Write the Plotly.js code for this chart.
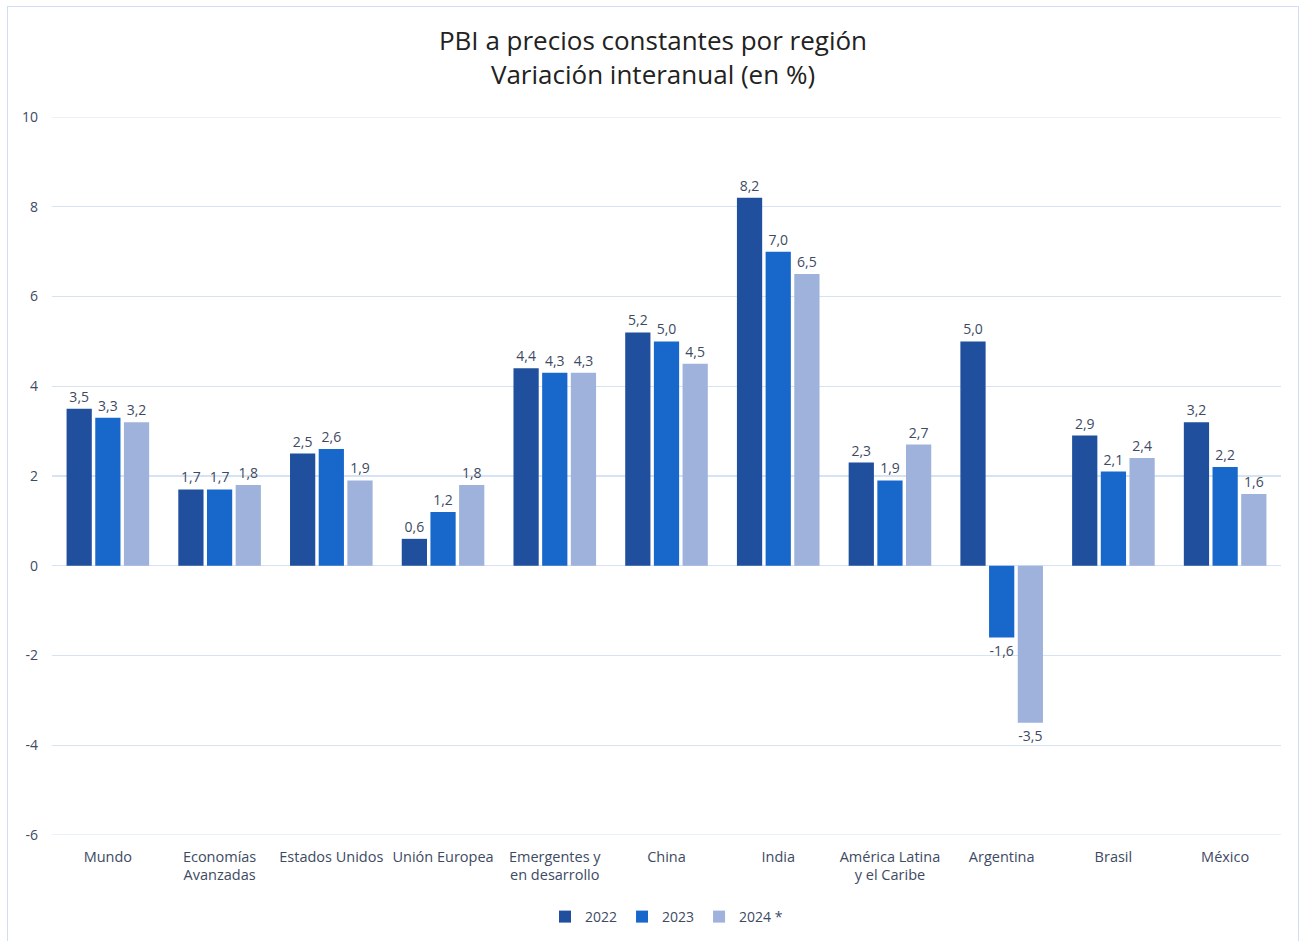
<!DOCTYPE html>
<html><head><meta charset="utf-8">
<script src="https://cdn.plot.ly/plotly-3.0.1.min.js"></script>
<style>
html,body{margin:0;padding:0;background:#fff;}
#wrap{position:relative;width:1306px;height:941px;}
#chart{width:1306px;height:941px;}
#frame{position:absolute;left:7px;top:6px;width:1292px;height:940px;border:1.5px solid #cfdff5;pointer-events:none;box-sizing:border-box;}
</style></head>
<body>
<div id="wrap"><div id="chart"></div><div id="frame"></div></div>
<script>
const categories = ["Mundo","Economías<br>Avanzadas","Estados Unidos","Unión Europea","Emergentes y<br>en desarrollo","China","India","América Latina<br>y el Caribe","Argentina","Brasil","México"];
const v2022 = [3.5,1.7,2.5,0.6,4.4,5.2,8.2,2.3,5.0,2.9,3.2];
const v2023 = [3.3,1.7,2.6,1.2,4.3,5.0,7.0,1.9,-1.6,2.1,2.2];
const v2024 = [3.2,1.8,1.9,1.8,4.3,4.5,6.5,2.7,-3.5,2.4,1.6];
const seriesNames = ["2022","2023","2024 *"];
const colors = ["#1f4f9d","#1868cc","#9fb2db"];
const yTicks = [-6,-4,-2,0,2,4,6,8,10];
const yTickText = ["-6","-4","-2","0","2","4","6","8","10"];
const yMin = -6, yMax = 10;

const font = "Open Sans, Liberation Sans, sans-serif";
const gridColor = "#d5e3f4";
const fmt = v => v.toFixed(1).replace(".", ",");
const traces = [v2022,v2023,v2024].map((vals,i)=>({
  type:"bar", x:categories, y:vals, name:seriesNames[i],
  marker:{color:colors[i], line:{width:0}},
  text:vals.map(fmt), textposition:"outside",
  textfont:{size:14,color:"#3d4a63",family:font},
  cliponaxis:false, hoverinfo:"none"
}));

const layout = {
  width:1306, height:941,
  margin:{l:52,r:25,t:117,b:106, autoexpand:false},
  paper_bgcolor:"#fff", plot_bgcolor:"#fff",
  separators:",.",
  font:{family:font,color:"#3d4a63",size:14},
  title:{text:"PBI a precios constantes por región<br>Variación interanual (en %)",
    font:{size:26,color:"#222",family:font}, x:0.5, xanchor:"center",
    y:1-50/941, yanchor:"middle", yref:"container"},
  barmode:"group", bargap:0.23, bargroupgap:0.12,
  xaxis:{type:"category", showgrid:false, showline:false, zeroline:false, ticks:"",
    tickfont:{size:14.5,color:"#3d4a63"}, ticklabelstandoff:11, automargin:false},
  yaxis:{range:[yMin,yMax], tickvals:yTicks, ticktext:yTickText, showgrid:true, gridcolor:gridColor, gridwidth:1.2,
    zeroline:true, zerolinecolor:gridColor, zerolinewidth:1.2, showline:false, ticks:"",
    tickfont:{size:14,color:"#3d4a63"}, ticklabelstandoff:13, automargin:false},
  shapes:[yMin,yMax].map(v=>({type:"line", xref:"paper", x0:0, x1:1, yref:"y", y0:v, y1:v,
    line:{color:gridColor, width:1.2}, layer:"below"})),
  showlegend:true,
  legend:{orientation:"h", x:0.5, xanchor:"center", yref:"container", y:1-917/941, yanchor:"middle",
    font:{size:14,color:"#3d4a63"}, itemwidth:30, traceorder:"normal"}
};
Plotly.newPlot("chart", traces, layout, {displayModeBar:false, staticPlot:true});
</script>
</body></html>
